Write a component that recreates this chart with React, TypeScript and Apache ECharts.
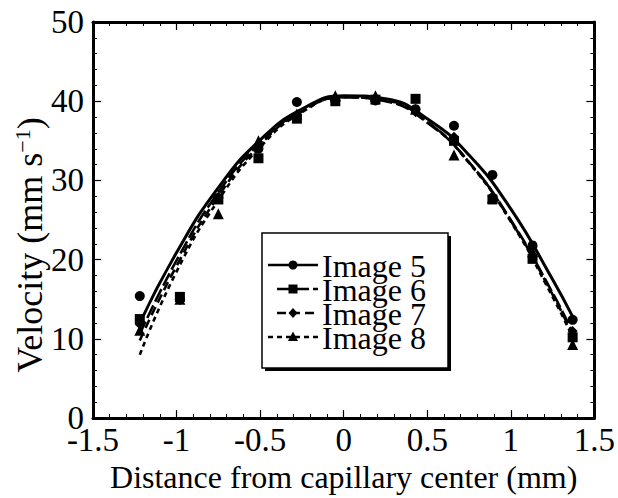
import React, { useEffect, useRef } from "react";
import * as echarts from "echarts";

// measured points (x in mm, velocity in mm/s)
const pointX = [-1.22, -0.98, -0.75, -0.51, -0.28, -0.05, 0.19, 0.43, 0.66, 0.89, 1.13, 1.37];
const image5 = [15.4, 15.0, 27.8, 34.0, 39.9, 40.1, 40.1, 39.0, 36.9, 30.7, 21.8, 12.4];
const image6 = [12.5, 15.3, 27.6, 32.8, 37.8, 40.0, 40.2, 40.3, 35.0, 27.6, 20.1, 10.2];
const image7 = [11.8, 14.9, 27.8, 34.3, 38.3, 40.4, 40.4, 38.6, 35.5, 28.0, 21.6, 11.0];
const image8 = [11.1, 15.0, 25.8, 35.0, 38.4, 40.7, 40.7, 39.0, 33.2, 27.8, 21.0, 9.3];

// fitted curves
const fitX = [-1.22, -1.0, -0.75, -0.5, -0.25, 0, 0.25, 0.5, 0.75, 1.0, 1.25, 1.37];
const fit5 = [12.0, 20.9, 29.1, 35.1, 39.0, 40.7, 40.3, 37.8, 33.2, 26.4, 17.5, 12.8];
const fit6 = [10.6, 19.9, 28.5, 34.7, 38.8, 40.5, 40.0, 37.3, 32.3, 25.0, 15.8, 10.8];
const fit7 = [9.8, 19.2, 28.0, 34.5, 38.7, 40.5, 40.1, 37.4, 32.3, 24.9, 15.6, 10.5];
const fit8 = [8.0, 18.5, 27.5, 34.2, 38.6, 40.5, 40.1, 37.4, 32.2, 24.8, 15.3, 10.2];

const names = ["Image 5", "Image 6", "Image 7", "Image 8"];
const pointSets = [image5, image6, image7, image8];
const fitSets = [fit5, fit6, fit7, fit8];
const symbols = ["circle", "rect", "diamond", "triangle"];
const symbolSizes = [10, 10, 10, 11];
const dashes: any[] = ["solid", [14, 4], [9, 5], [5, 4]];

const FONT = "Liberation Serif";

function legendMarker(kind: string, cx: number, cy: number): any {
  const style = { fill: "#000", stroke: "#000", lineWidth: 0 };
  if (kind === "circle") return { type: "circle", shape: { cx, cy, r: 4.5 }, style, z: 52 };
  if (kind === "rect") return { type: "rect", shape: { x: cx - 4.5, y: cy - 4.5, width: 9, height: 9 }, style, z: 52 };
  if (kind === "diamond")
    return { type: "polygon", shape: { points: [[cx, cy - 5], [cx + 4.5, cy], [cx, cy + 5], [cx - 4.5, cy]] }, style, z: 52 };
  return { type: "polygon", shape: { points: [[cx, cy - 5.5], [cx + 5, cy + 4], [cx - 5, cy + 4]] }, style, z: 52 };
}

export default function App() {
  const ref = useRef<HTMLDivElement>(null);
  useEffect(() => {
    if (!ref.current) return;
    const chart = echarts.init(ref.current, undefined, { renderer: "svg" });
    const series: any[] = [];
    names.forEach((name, i) => {
      series.push({
        name,
        type: "line",
        data: fitX.map((x, j) => [x, fitSets[i][j]]),
        smooth: true,
        symbol: "none",
        lineStyle: { color: "#000", width: i === 0 ? 3 : 2.6, type: dashes[i] },
        itemStyle: { color: "#000" },
        z: 2,
      });
    });
    names.forEach((name, i) => {
      series.push({
        name,
        type: "scatter",
        data: pointX.map((x, j) => [x, pointSets[i][j]]),
        symbol: symbols[i],
        symbolSize: symbolSizes[i],
        itemStyle: { color: "#000", opacity: 1 },
        z: 3,
      });
    });

    const axisCommon = {
      axisLine: { show: true, onZero: false, lineStyle: { color: "#000", width: 3 } },
      axisTick: { show: true, inside: true, length: 8, lineStyle: { color: "#000", width: 1.2 } },
      minorTick: { show: true, splitNumber: 5, length: 4, lineStyle: { color: "#000", width: 1 } },
      splitLine: { show: false },
      minorSplitLine: { show: false },
    };

    // legend drawn as a boxed key
    const boxX = 262, boxY = 233, boxW = 186, boxH = 135;
    const rowY = [265, 289, 313, 337];
    const legendEls: any[] = [
      { type: "rect", shape: { x: boxX + 3, y: boxY + 3, width: boxW, height: boxH }, style: { fill: "#000" }, z: 50 },
      { type: "rect", shape: { x: boxX, y: boxY, width: boxW, height: boxH }, style: { fill: "#fff", stroke: "#000", lineWidth: 1.5 }, z: 50 },
    ];
    names.forEach((name, i) => {
      const y = rowY[i];
      const lx0 = i === 1 || i === 2 ? 277 : 268;
      legendEls.push({
        type: "line",
        shape: { x1: lx0, y1: y, x2: 318, y2: y },
        style: { stroke: "#000", lineWidth: 2.6, lineDash: dashes[i] === "solid" ? null : dashes[i] },
        z: 51,
      });
      legendEls.push(legendMarker(symbols[i], 293, y));
      legendEls.push({
        type: "text",
        x: 322,
        y: y + 1,
        style: {
          text: "{t|" + name + "}",
          align: "left",
          verticalAlign: "middle",
          fill: "#000",
          rich: { t: { fontFamily: FONT, fontSize: 32, lineHeight: 24, fill: "#000" } },
        },
        z: 52,
      });
    });

    chart.setOption({
      animation: false,
      backgroundColor: "#fff",
      textStyle: { fontFamily: FONT },
      grid: { left: 93, right: 21, top: 22, bottom: 75 },
      xAxis: [
        {
          type: "value",
          min: -1.5,
          max: 1.5,
          interval: 0.5,
          position: "bottom",
          ...axisCommon,
          axisLabel: { color: "#000", fontFamily: FONT, fontSize: 33, margin: 5 },
          name: "Distance from capillary center (mm)",
          nameLocation: "middle",
          nameGap: 29,
          nameTextStyle: { color: "#000", fontFamily: FONT, fontSize: 32 },
        },
        {
          type: "value",
          min: -1.5,
          max: 1.5,
          interval: 0.5,
          position: "top",
          ...axisCommon,
          axisLabel: { show: false },
        },
      ],
      yAxis: [
        {
          type: "value",
          min: 0,
          max: 50,
          interval: 10,
          position: "left",
          ...axisCommon,
          axisLabel: { color: "#000", fontFamily: FONT, fontSize: 33, margin: 9, padding: [0, 0, 6, 0] },
        },
        {
          type: "value",
          min: 0,
          max: 50,
          interval: 10,
          position: "right",
          ...axisCommon,
          axisLabel: { show: false },
        },
      ],
      graphic: [
        {
          type: "text",
          x: 30,
          y: 245,
          rotation: Math.PI / 2,
          style: {
            text: "{n|Velocity (mm s}{s|\u22121}{n|)}",
            align: "center",
            verticalAlign: "middle",
            fill: "#000",
            rich: {
              n: { fontFamily: FONT, fontSize: 36, lineHeight: 38, fill: "#000" },
              s: { fontFamily: FONT, fontSize: 22, lineHeight: 38, verticalAlign: "top", padding: [0, 0, 15, 0], fill: "#000" },
            },
          },
        },
        ...legendEls,
      ],
      series,
    });
    return () => chart.dispose();
  }, []);
  return (
    <div
      ref={ref}
      style={{ position: "fixed", left: 0, top: 0, width: 618, height: 498, background: "#fff" }}
    />
  );
}
